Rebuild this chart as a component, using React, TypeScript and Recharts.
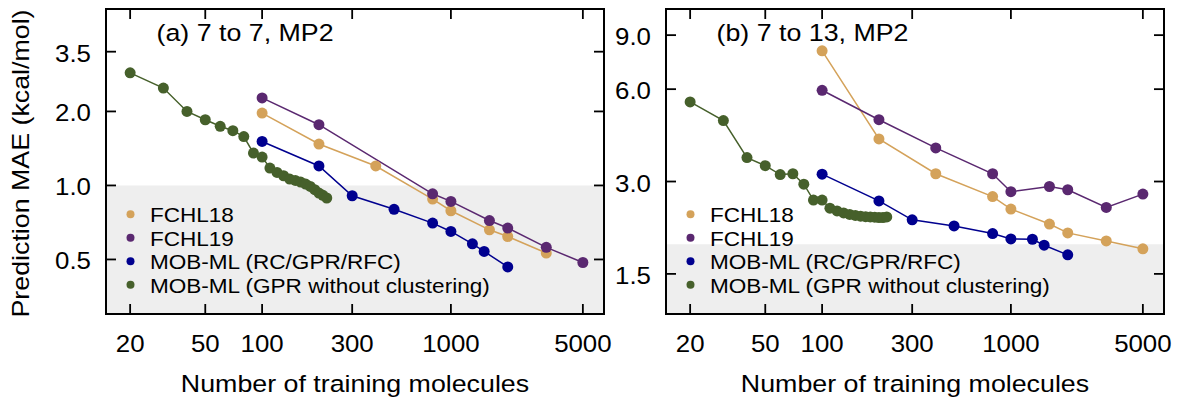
import React from 'react';
import { LineChart, Line, XAxis, YAxis, ReferenceArea } from 'recharts';

// ---------- data ----------
const seriesNames = ['FCHL18', 'FCHL19', 'MOB-ML (RC/GPR/RFC)', 'MOB-ML (GPR without clustering)'];
const seriesColors = ['#D4A25A', '#5A2870', '#00008F', '#46602B'];

const xTicks = [20, 50, 100, 300, 1000, 5000];
const xDomain = [14.9, 6470];

// panel (a) 7 to 7, MP2
const aYTicks = [0.5, 1.0, 2.0, 3.5];
const aYDomain = [0.3, 5.22];
const aBandTop = 1.0;
const aFchl18N = [100, 200, 400, 800, 1000, 1600, 2000, 3200];
const aFchl18Mae = [1.97, 1.474, 1.2, 0.88, 0.789, 0.66, 0.62, 0.531];
const aFchl19N = [100, 200, 800, 1000, 1600, 2000, 3200, 5000];
const aFchl19Mae = [2.27, 1.766, 0.925, 0.861, 0.72, 0.671, 0.56, 0.486];
const aMobN = [100, 200, 300, 500, 800, 1000, 1300, 1500, 2000];
const aMobMae = [1.51, 1.2, 0.908, 0.8, 0.703, 0.65, 0.579, 0.539, 0.466];
const aGprN = [20, 30, 40, 50, 60, 70, 80, 90, 100, 110, 120, 130, 140, 150, 160, 170, 180, 190, 200, 210, 220];
const aGprMae = [2.87, 2.49, 2.0, 1.85, 1.74, 1.67, 1.58, 1.354, 1.305, 1.177, 1.13, 1.095, 1.062, 1.048, 1.032, 1.013, 0.991, 0.961, 0.931, 0.912, 0.889];

// panel (b) 7 to 13, MP2
const bYTicks = [1.5, 3.0, 6.0, 9.0];
const bYDomain = [1.11, 10.95];
const bBandTop = 1.875;
const bFchl18N = [100, 200, 400, 800, 1000, 1600, 2000, 3200, 5000];
const bFchl18Mae = [8.0, 4.13, 3.18, 2.68, 2.44, 2.18, 2.04, 1.92, 1.81];
const bFchl19N = [100, 200, 400, 800, 1000, 1600, 2000, 3200, 5000];
const bFchl19Mae = [5.95, 4.77, 3.86, 3.18, 2.78, 2.89, 2.82, 2.47, 2.73];
const bMobN = [100, 200, 300, 500, 800, 1000, 1300, 1500, 2000];
const bMobMae = [3.17, 2.594, 2.25, 2.15, 2.03, 1.95, 1.945, 1.86, 1.73];
const bGprN = [20, 30, 40, 50, 60, 70, 80, 90, 100, 110, 120, 130, 140, 150, 160, 170, 180, 190, 200, 210, 220];
const bGprMae = [5.45, 4.74, 3.59, 3.38, 3.16, 3.18, 2.94, 2.61, 2.61, 2.456, 2.406, 2.37, 2.344, 2.326, 2.312, 2.304, 2.3, 2.295, 2.29, 2.29, 2.3];

const titleA = '(a) 7 to 7, MP2';
const titleB = '(b) 7 to 13, MP2';
const xTitle = 'Number of training molecules';
const yTitle = 'Prediction MAE (kcal/mol)';

// ---------- helpers ----------
const FONT = '"Liberation Sans", Arial, Helvetica, sans-serif';
const TICK_LEN = 10;
const FRAME_W = 2;
const TICK_W = 1.8;

const zip = (ns: number[], vs: number[]) => ns.map((n, i) => ({ n, mae: vs[i] }));

const BottomTick = (p: any) => {
  const { x, y, payload } = p;
  return (
    <g>
      <path d={`M${x},${y}L${x},${y - TICK_LEN}`} stroke="#000" strokeWidth={TICK_W} fill="none" />
      <g transform={`translate(${x},${y + 38}) scale(1.1,1)`}>
        <text x={0} y={0} textAnchor="middle" fontSize={23.5} fontFamily={FONT} fill="#000">
          {payload.value}
        </text>
      </g>
    </g>
  );
};
const TopTick = (p: any) => {
  const { x, y } = p;
  return <path d={`M${x},${y}L${x},${y + TICK_LEN}`} stroke="#000" strokeWidth={TICK_W} fill="none" />;
};
const LeftTick = (p: any) => {
  const { x, y, payload } = p;
  return (
    <g>
      <path d={`M${x},${y}L${x + TICK_LEN},${y}`} stroke="#000" strokeWidth={TICK_W} fill="none" />
      <g transform={`translate(${x - 15},${y + 10}) scale(1.1,1)`}>
        <text x={0} y={0} textAnchor="end" fontSize={23.5} fontFamily={FONT} fill="#000">
          {Number(payload.value).toFixed(1)}
        </text>
      </g>
    </g>
  );
};
const RightTick = (p: any) => {
  const { x, y } = p;
  return <path d={`M${x},${y}L${x - TICK_LEN},${y}`} stroke="#000" strokeWidth={TICK_W} fill="none" />;
};

type Series = { name: string; color: string; data: { n: number; mae: number }[] };

const H = 397;
const PLOT_TOP = 9;
const X_AXIS_H = 83;

function Panel(props: {
  left: number;
  width: number;
  yAxisWidth: number;
  marginRight: number;
  yDomain: number[];
  yTicks: number[];
  band: number;
  series: Series[];
  title: string;
  showYTitle: boolean;
}) {
  const { left, width, yAxisWidth, marginRight, yDomain, yTicks, band, series, title, showYTitle } = props;
  const plotLeft = yAxisWidth;
  const plotRight = width - marginRight;
  const plotBottom = H - X_AXIS_H;
  const plotCenterX = (plotLeft + plotRight) / 2;
  return (
    <div style={{ position: 'absolute', left, top: 0, width, height: H }}>
      <LineChart width={width} height={H} margin={{ top: PLOT_TOP - 1, right: marginRight - 1, bottom: 0, left: 0 }}>
        <ReferenceArea
          x1={xDomain[0]}
          x2={xDomain[1]}
          y1={yDomain[0]}
          y2={band}
          fill="#eeeeee"
          fillOpacity={1}
          stroke="none"
        />
        <XAxis
          dataKey="n"
          type="number"
          scale="log"
          domain={xDomain}
          allowDataOverflow
          ticks={xTicks}
          height={X_AXIS_H}
          tickSize={0}
          tickMargin={0}
          tickLine={false}
          tick={<BottomTick />}
          axisLine={{ stroke: '#000', strokeWidth: FRAME_W }}
          interval={0}
        />
        <XAxis
          xAxisId="top"
          orientation="top"
          dataKey="n"
          type="number"
          scale="log"
          domain={xDomain}
          allowDataOverflow
          ticks={xTicks}
          height={1}
          tickSize={0}
          tickMargin={0}
          tickLine={false}
          tick={<TopTick />}
          axisLine={{ stroke: '#000', strokeWidth: FRAME_W }}
        />
        <YAxis
          dataKey="mae"
          type="number"
          scale="log"
          domain={yDomain}
          allowDataOverflow
          ticks={yTicks}
          width={yAxisWidth}
          tickSize={0}
          tickMargin={0}
          tickLine={false}
          tick={<LeftTick />}
          axisLine={{ stroke: '#000', strokeWidth: FRAME_W }}
          interval={0}
        />
        <YAxis
          yAxisId="right"
          orientation="right"
          dataKey="mae"
          type="number"
          scale="log"
          domain={yDomain}
          allowDataOverflow
          ticks={yTicks}
          width={1}
          tickSize={0}
          tickMargin={0}
          tickLine={false}
          tick={<RightTick />}
          axisLine={{ stroke: '#000', strokeWidth: FRAME_W }}
        />
        {series.map((s, i) => (
          <Line
            key={'s' + i}
            data={s.data}
            dataKey="mae"
            type="linear"
            stroke={s.color}
            strokeWidth={1.5}
            dot={{ r: 5.5, fill: s.color, stroke: 'none' }}
            activeDot={false}
            isAnimationActive={false}
          />
        ))}
      </LineChart>
      <svg
        width={width}
        height={H}
        style={{ position: 'absolute', left: 0, top: 0, overflow: 'visible', pointerEvents: 'none' }}
      >
        <rect
          x={plotLeft}
          y={PLOT_TOP}
          width={plotRight - plotLeft}
          height={plotBottom - PLOT_TOP}
          fill="none"
          stroke="#000"
          strokeWidth={FRAME_W}
        />
        {series.map((s, i) => {
          const base = 222.3 + i * 23.5;
          return (
            <g key={'l' + i}>
              <circle cx={plotLeft + 24.5} cy={base - 8} r={4} fill={s.color} />
              <g transform={`translate(${plotLeft + 44},${base}) scale(1.1,1)`}>
                <text x={0} y={0} fontSize={20.5} fontFamily={FONT} fill="#000">
                  {s.name}
                </text>
              </g>
            </g>
          );
        })}
        <g transform={`translate(${plotLeft + 50.5},41) scale(1.14,1)`}>
          <text x={0} y={0} fontSize={23.5} fontFamily={FONT} fill="#000">
            {title}
          </text>
        </g>
        <g transform={`translate(${plotCenterX},391.5) scale(1.14,1)`}>
          <text x={0} y={0} textAnchor="middle" fontSize={23.5} fontFamily={FONT} fill="#000">
            {xTitle}
          </text>
        </g>
        {showYTitle && (
          <g transform="translate(28.5,163.5) rotate(-90) scale(1.14,1)">
            <text x={0} y={0} textAnchor="middle" fontSize={23.5} fontFamily={FONT} fill="#000">
              {yTitle}
            </text>
          </g>
        )}
      </svg>
    </div>
  );
}

const seriesA: Series[] = [
  { name: seriesNames[0], color: seriesColors[0], data: zip(aFchl18N, aFchl18Mae) },
  { name: seriesNames[1], color: seriesColors[1], data: zip(aFchl19N, aFchl19Mae) },
  { name: seriesNames[2], color: seriesColors[2], data: zip(aMobN, aMobMae) },
  { name: seriesNames[3], color: seriesColors[3], data: zip(aGprN, aGprMae) },
];
const seriesB: Series[] = [
  { name: seriesNames[0], color: seriesColors[0], data: zip(bFchl18N, bFchl18Mae) },
  { name: seriesNames[1], color: seriesColors[1], data: zip(bFchl19N, bFchl19Mae) },
  { name: seriesNames[2], color: seriesColors[2], data: zip(bMobN, bMobMae) },
  { name: seriesNames[3], color: seriesColors[3], data: zip(bGprN, bGprMae) },
];

export default function App() {
  return (
    <div style={{ position: 'absolute', left: 0, top: 0, width: 1177, height: H, background: '#fff', fontFamily: FONT }}>
      <Panel left={0} width={613} yAxisWidth={106} marginRight={9} yDomain={aYDomain} yTicks={aYTicks} band={aBandTop} series={seriesA} title={titleA} showYTitle={true} />
      <Panel left={613} width={564} yAxisWidth={53} marginRight={13} yDomain={bYDomain} yTicks={bYTicks} band={bBandTop} series={seriesB} title={titleB} showYTitle={false} />
    </div>
  );
}
